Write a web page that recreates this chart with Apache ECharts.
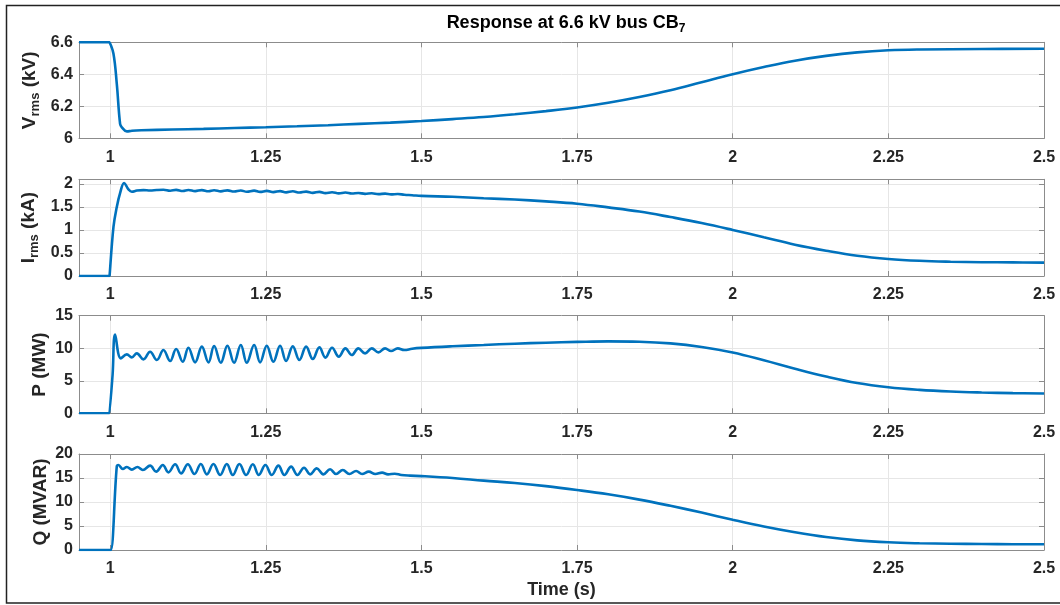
<!DOCTYPE html>
<html>
<head>
<meta charset="utf-8">
<script src="https://cdn.jsdelivr.net/npm/echarts@6/dist/echarts.min.js"></script>
<style>html,body{margin:0;padding:0;background:#fff;}#c{width:1060px;height:605px;}</style>
</head>
<body>
<div id="c"></div>
<script>
// ---- data: [time (s), value] ----
const xTicks = [1, 1.25, 1.5, 1.75, 2, 2.25, 2.5];

const vData = [[0.95,6.6],[0.999,6.6],[1.0,6.6],[1.0053,6.53],[1.0107,6.34],[1.016,6.09],[1.0188,6.069],[1.0268,6.043],[1.035,6.047],[1.05,6.05],[1.1,6.055],[1.15,6.059],[1.2,6.064],[1.25,6.069],[1.3,6.075],[1.35,6.082],[1.4,6.09],[1.45,6.098],[1.5,6.108],[1.55,6.12],[1.6,6.133],[1.65,6.15],[1.7,6.17],[1.75,6.193],[1.8,6.222],[1.85,6.258],[1.9,6.30],[1.95,6.35],[2.0,6.40],[2.05,6.445],[2.1,6.485],[2.15,6.515],[2.2,6.537],[2.25,6.55],[2.3,6.555],[2.4,6.558],[2.5,6.56]];

const iData = [[0.95,0],[0.999,0],[1.0,0],[1.0054,1.07],[1.0107,1.5],[1.016,1.8],[1.0225,2.02],[1.0294,1.88],[1.0348,1.83],[1.0429,1.855],[1.0535,1.866],[1.0642,1.858],[1.0750,1.868],[1.0856,1.873],[1.0964,1.851],[1.1060,1.870],[1.1167,1.846],[1.1257,1.868],[1.1365,1.843],[1.1473,1.866],[1.1579,1.840],[1.1670,1.863],[1.1778,1.838],[1.1884,1.860],[1.1991,1.834],[1.2099,1.857],[1.2195,1.830],[1.2313,1.853],[1.2409,1.826],[1.2516,1.849],[1.2622,1.822],[1.2730,1.844],[1.2826,1.817],[1.2934,1.839],[1.3040,1.812],[1.3148,1.833],[1.3255,1.806],[1.3361,1.827],[1.3458,1.800],[1.3565,1.820],[1.3673,1.795],[1.3779,1.812],[1.3882,1.790],[1.3987,1.804],[1.4095,1.784],[1.4203,1.796],[1.4309,1.778],[1.4416,1.788],[1.4513,1.772],[1.4620,1.780],[1.4726,1.765],[1.485,1.755],[1.5,1.74],[1.55,1.72],[1.6,1.69],[1.65,1.66],[1.7,1.62],[1.75,1.57],[1.8,1.49],[1.85,1.40],[1.9,1.28],[1.95,1.15],[2.0,1.00],[2.05,0.84],[2.1,0.68],[2.15,0.55],[2.2,0.44],[2.25,0.37],[2.3,0.33],[2.35,0.31],[2.4,0.30],[2.45,0.295],[2.5,0.29]];

const pData = [[0.95,0],[0.999,0],[1.0,0],[1.004,6],[1.008,12.1],[1.0172,8.44],[1.0268,9.06],[1.0348,8.60],[1.0429,9.21],[1.0535,8.29],[1.0642,9.47],[1.0750,8.19],[1.0856,9.72],[1.0964,8.03],[1.1060,9.88],[1.1167,7.93],[1.1257,10.08],[1.1365,7.83],[1.1473,10.24],[1.1579,7.83],[1.1670,10.34],[1.1778,7.78],[1.1884,10.39],[1.1991,7.78],[1.2099,10.49],[1.2195,7.78],[1.2313,10.49],[1.2409,7.83],[1.2516,10.39],[1.2622,7.93],[1.2730,10.39],[1.2826,8.03],[1.2934,10.29],[1.3040,8.19],[1.3148,10.24],[1.3255,8.34],[1.3361,10.13],[1.3458,8.55],[1.3565,10.08],[1.3673,8.70],[1.3779,9.98],[1.3882,8.96],[1.3987,9.98],[1.4095,9.21],[1.4203,9.98],[1.4309,9.37],[1.4416,9.98],[1.4513,9.57],[1.4620,9.98],[1.4726,9.72],[1.485,9.92],[1.5,10.05],[1.55,10.3],[1.6,10.5],[1.65,10.7],[1.7,10.85],[1.75,10.97],[1.8,11.05],[1.85,11.0],[1.9,10.75],[1.95,10.2],[2.0,9.35],[2.05,8.15],[2.1,6.85],[2.15,5.65],[2.2,4.65],[2.25,4.0],[2.3,3.6],[2.35,3.35],[2.4,3.2],[2.45,3.1],[2.5,3.05]];

const qData = [[0.95,0],[0.999,0],[1.001,0],[1.0107,17.4],[1.0133,17.71],[1.0204,16.875],[1.0268,17.29],[1.0348,16.74],[1.0438,17.29],[1.0525,16.67],[1.0642,17.57],[1.0739,16.32],[1.0846,17.71],[1.0936,16.18],[1.1044,17.85],[1.1140,15.97],[1.1248,17.85],[1.1354,15.83],[1.1457,17.92],[1.1553,15.76],[1.1659,17.92],[1.1767,15.625],[1.1874,17.92],[1.1970,15.625],[1.2076,17.92],[1.2184,15.625],[1.2292,17.85],[1.2388,15.625],[1.2494,17.71],[1.2597,15.625],[1.2703,17.57],[1.2799,15.625],[1.2907,17.36],[1.3008,15.625],[1.3115,17.15],[1.3212,15.76],[1.3319,17.01],[1.3425,15.76],[1.3533,16.81],[1.3629,15.83],[1.3737,16.67],[1.3843,15.83],[1.3951,16.46],[1.4047,15.83],[1.4154,16.32],[1.4260,15.83],[1.4368,16.11],[1.4464,15.76],[1.4572,15.90],[1.4678,15.625],[1.4818,15.49],[1.5,15.4],[1.55,15.0],[1.6,14.45],[1.65,13.95],[1.7,13.3],[1.75,12.5],[1.8,11.6],[1.85,10.5],[1.9,9.2],[1.95,7.8],[2.0,6.3],[2.05,4.9],[2.1,3.7],[2.15,2.7],[2.2,2.0],[2.25,1.6],[2.3,1.4],[2.35,1.3],[2.4,1.25],[2.45,1.2],[2.5,1.2]];

const yNames = ['{b|V}{s|rms}{b| (kV)}', '{b|I}{s|rms}{b| (kA)}', '{b|P (MW)}', '{b|Q (MVAR)}'];
const yMin = [6, 0, 0, 0];
const yMax = [6.6, 2.1, 15, 20];
const yStep = [0.2, 0.5, 5, 5];
const titleText = '{t|Response at 6.6 kV bus CB}{s|7}';
const xName = 'Time (s)';

// ---- layout ----
const FONT = 'Liberation Sans, Arial, sans-serif';
const LINE = '#0072BD';
const BOX = '#8c8c8c';
const GRIDC = '#e6e6e6';
const TXT = '#262626';
const grids = [
  {left: 79, right: 16, top: 42.3, height: 96},
  {left: 79, right: 16, top: 179.3, height: 96.7},
  {left: 79, right: 16, top: 315.7, height: 97.6},
  {left: 79, right: 16, top: 454, height: 96}
];
const nameGaps = [37, 38, 27, 26];
const datasets = [vData, iData, pData, qData];

const xAxes = [], yAxes = [], series = [];
for (let i = 0; i < 4; i++) {
  const xBase = {
    type: 'value', gridIndex: i, min: 0.95, max: 2.5,
    minInterval: 0.25, maxInterval: 0.25,
    axisLine: {show: true, onZero: false, lineStyle: {color: BOX, width: 1}},
    axisTick: {show: true, inside: true, length: 5, lineStyle: {color: BOX}}
  };
  xAxes.push(Object.assign({}, xBase, {
    position: 'bottom',
    axisLabel: {show: true, showMinLabel: false, margin: 11, color: TXT, fontSize: 16, fontWeight: 'bold', fontFamily: FONT},
    splitLine: {show: true, lineStyle: {color: GRIDC, width: 1}},
    name: i === 3 ? xName : '', nameLocation: 'middle', nameGap: 31, nameMoveOverlap: false,
    nameTextStyle: {color: TXT, fontSize: 18, fontWeight: 'bold', fontFamily: FONT}
  }));
  xAxes.push(Object.assign({}, xBase, {
    position: 'top', axisLabel: {show: false}, splitLine: {show: false}
  }));
  const yBase = {
    type: 'value', gridIndex: i, min: yMin[i], max: yMax[i], interval: yStep[i],
    axisLine: {show: true, onZero: false, lineStyle: {color: BOX, width: 1}},
    axisTick: {show: true, inside: true, length: 5, lineStyle: {color: BOX}}
  };
  yAxes.push(Object.assign({}, yBase, {
    position: 'left',
    axisLabel: {show: true, showMaxLabel: i === 1 ? false : true, margin: 6, color: TXT, fontSize: 16, fontWeight: 'bold', fontFamily: FONT},
    splitLine: {show: true, lineStyle: {color: GRIDC, width: 1}},
    name: yNames[i], nameLocation: 'middle', nameRotate: 90, nameGap: nameGaps[i], nameMoveOverlap: false,
    nameTextStyle: {
      color: TXT, fontFamily: FONT,
      rich: {
        b: {fontSize: 19, fontWeight: 'bold', color: TXT, fontFamily: FONT, lineHeight: 24},
        s: {fontSize: 13, fontWeight: 'bold', color: TXT, fontFamily: FONT, lineHeight: 13, verticalAlign: 'bottom'}
      }
    }
  }));
  yAxes.push(Object.assign({}, yBase, {
    position: 'right', axisLabel: {show: false}, splitLine: {show: false}
  }));
  series.push({
    type: 'line', xAxisIndex: 2 * i, yAxisIndex: 2 * i,
    data: datasets[i], showSymbol: false, symbol: 'none', smooth: 0.4,
    lineStyle: {color: LINE, width: 2.6}, itemStyle: {color: LINE},
    clip: true
  });
}

const chart = echarts.init(document.getElementById('c'), null, {renderer: 'canvas'});
chart.setOption({
  animation: false,
  backgroundColor: '#fff',
  title: {
    text: titleText, left: 561, top: 6, textAlign: 'center',
    textStyle: {
      rich: {
        t: {fontSize: 18, fontWeight: 'bold', color: '#000', fontFamily: FONT, lineHeight: 24},
        s: {fontSize: 12, fontWeight: 'bold', color: '#000', fontFamily: FONT, lineHeight: 12, verticalAlign: 'bottom'}
      }
    }
  },
  grid: grids,
  xAxis: xAxes,
  yAxis: yAxes,
  series: series,
  graphic: [{
    type: 'rect', silent: true, z: 100,
    shape: {x: 6.5, y: 5.5, width: 1100, height: 597.5},
    style: {fill: 'none', stroke: '#222', lineWidth: 1.5}
  }]
});
</script>
</body>
</html>
